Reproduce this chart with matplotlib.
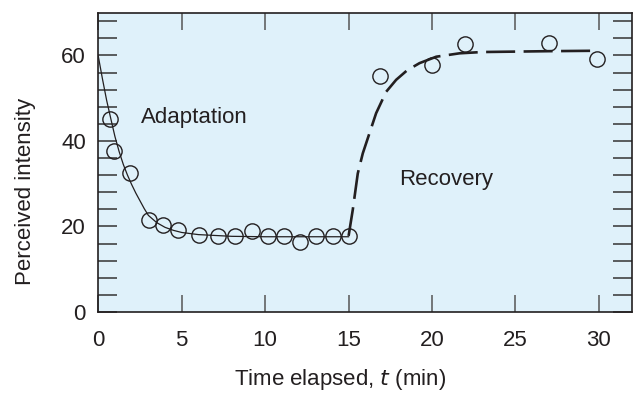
import numpy as np
import matplotlib
matplotlib.use("Agg")
from matplotlib import pyplot as plt
from matplotlib.ticker import MultipleLocator, FixedLocator

plt.rcParams['font.family'] = ['Liberation Sans', 'DejaVu Sans']

# Measured points (open circles)
t_points = [0.7, 0.95, 1.9, 3.05, 3.85, 4.8, 6.05, 7.2, 8.2, 9.2, 10.15, 11.1,
            12.1, 13.05, 14.05, 15.0, 16.9, 20.0, 22.0, 27.0, 29.9]
intensity_points = [45.1, 37.7, 32.6, 21.5, 20.3, 19.2, 18.0, 17.8, 17.8, 19.0, 17.8, 17.7,
                    16.4, 17.8, 17.8, 17.8, 55.2, 57.8, 62.7, 62.8, 59.1]

# Adaptation curve (thin solid)
t_adapt = [0, 0.25, 0.5, 0.75, 1.0, 1.25, 1.5, 1.75, 2.0, 2.25, 2.5, 2.75, 3.0,
           3.5, 4.0, 4.5, 5.0, 6.0, 7.0, 8.0, 10.0, 12.0, 15.0]
i_adapt = [59.8, 54.5, 49.5, 45.2, 41.0, 37.5, 34.5, 32.0, 29.8, 27.8, 26.0, 24.2, 22.6,
           20.9, 19.8, 19.1, 18.6, 18.1, 17.9, 17.7, 17.6, 17.6, 17.6]

# Recovery curve (thick dashed)
t_recov = [15.0, 15.25, 15.55, 15.85, 16.25, 16.65, 17.25, 17.85, 18.5, 19.25, 20.25,
           21.65, 23.0, 25.0, 27.0, 29.9]
i_recov = [17.8, 23.9, 32.4, 37.1, 41.8, 46.5, 51.5, 54.3, 56.5, 58.2, 59.7,
           60.5, 60.8, 60.9, 61.0, 61.1]

ink = '#231f20'

fig = plt.figure(figsize=(6.35, 3.94), dpi=100)
ax = fig.add_axes([0.1548, 0.2081, 0.8409, 0.7597])
ax.set_facecolor('#dff1fa')

ax.plot(t_adapt, i_adapt, color=ink, lw=0.9)
ax.plot(t_recov, i_recov, color=ink, lw=1.9, dashes=(11, 3.2))
ax.plot(t_points, intensity_points, 'o', ms=11, mfc='none', mec=ink, mew=1.0)

ax.text(2.55, 45.4, 'Adaptation', fontsize=16, color=ink, va='center')
ax.text(18.05, 30.9, 'Recovery', fontsize=16, color=ink, va='center')

ax.set_xlim(0, 32)
ax.set_ylim(0, 70)
ax.xaxis.set_major_locator(FixedLocator([0, 5, 10, 15, 20, 25, 30]))
ax.yaxis.set_major_locator(FixedLocator([0, 20, 40, 60]))
ax.yaxis.set_minor_locator(MultipleLocator(4))

ax.tick_params(axis='x', which='major', direction='in', length=12.5, width=1.1,
               color='#555555', top=True, labelsize=16, labelcolor=ink, pad=13)
ax.tick_params(axis='y', which='both', direction='in', length=13.5, width=1.1,
               color='#333333', right=True, labelsize=16, labelcolor=ink, pad=9)

for s in ax.spines.values():
    s.set_linewidth(1.2)
    s.set_color(ink)

ax.set_xlabel('Time elapsed, $\\it{t}$ (min)', fontsize=16, color=ink, va='center')
ax.set_ylabel('Perceived intensity', fontsize=16, color=ink, va='center')
ax.xaxis.set_label_coords(0.4526, -0.227)
ax.yaxis.set_label_coords(-0.137, 0.404)

fig.savefig('out.png', dpi=100)
